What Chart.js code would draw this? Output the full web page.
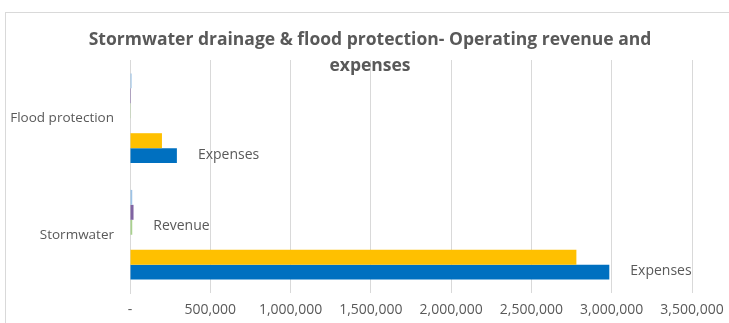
<!DOCTYPE html>
<html>
<head>
<meta charset="utf-8">
<script src="https://cdn.jsdelivr.net/npm/chart.js@4"></script>
<style>
  html, body { margin: 0; padding: 0; background: #fff; }
  #wrap { position: relative; width: 729px; height: 323px; }
</style>
</head>
<body>
<div id="wrap"><canvas id="c"></canvas></div>
<script>
// Categories (top to bottom)
const categories = ['Flood protection', 'Stormwater'];

// Series, in the order they are stacked inside each category band
const seriesNames = ['Grants', 'Other revenue', 'Revenue', 'Internal', 'Budgeted expenses', 'Expenses'];
const grantsValues        = [10000, 14000];
const otherRevenueValues  = [6000, 22000];
const revenueValues       = [5000, 14000];
const internalValues      = [null, null];
const budgetExpenseValues = [199000, 2780000];
const expenseValues       = [292000, 2985000];

// Text written beside a bar (series name shown as its data label)
const barLabels = [
  [null, null],
  [null, null],
  [null, 'Revenue'],
  [null, null],
  [null, null],
  ['Expenses', 'Expenses']
];

// Axis ticks
const xTicks = [0, 500000, 1000000, 1500000, 2000000, 2500000, 3000000, 3500000];

const titleLines = ['Stormwater drainage & flood protection- Operating revenue and', 'expenses'];

const colors = ['#9DC3E6', '#8064A2', '#A9D18E', '#A5A5A5', '#FFC000', '#0070C0'];
const seriesValues = [grantsValues, otherRevenueValues, revenueValues, internalValues, budgetExpenseValues, expenseValues];

const textColor = '#595959';
const gridColor = '#D9D9D9';
const fontFamily = '"Open Sans", "Noto Sans", sans-serif';

const framePlugin = {
  id: 'frame',
  beforeDraw(chart) {
    const ctx = chart.ctx;
    ctx.save();
    ctx.fillStyle = '#fff';
    ctx.fillRect(0, 0, chart.width, chart.height);
    ctx.strokeStyle = gridColor;
    ctx.lineWidth = 1;
    ctx.strokeRect(5.5, 12.5, 800, 400);
    ctx.restore();
  }
};

const titlePlugin = {
  id: 'chartTitle',
  afterDraw(chart) {
    const ctx = chart.ctx;
    ctx.save();
    ctx.font = 'bold 17.5px ' + fontFamily;
    ctx.fillStyle = textColor;
    ctx.textAlign = 'center';
    ctx.textBaseline = 'middle';
    ctx.fillText(titleLines[0], 370, 40);
    ctx.fillText(titleLines[1], 370, 66);
    ctx.restore();
  }
};

const barLabelPlugin = {
  id: 'barLabels',
  afterDatasetsDraw(chart) {
    const ctx = chart.ctx;
    ctx.save();
    ctx.font = '14px ' + fontFamily;
    ctx.fillStyle = textColor;
    ctx.textAlign = 'left';
    ctx.textBaseline = 'middle';
    barLabels.forEach((row, di) => {
      const meta = chart.getDatasetMeta(di);
      row.forEach((txt, i) => {
        if (!txt) return;
        const el = meta.data[i];
        ctx.fillText(txt, el.x + 21, el.y - 1);
      });
    });
    ctx.restore();
  }
};

new Chart(document.getElementById('c'), {
  type: 'bar',
  data: {
    labels: categories,
    datasets: seriesValues.map((vals, i) => ({
      label: seriesNames[i],
      data: vals,
      backgroundColor: colors[i],
      borderWidth: 0,
      categoryPercentage: 0.77,
      barPercentage: 1.0
    }))
  },
  options: {
    indexAxis: 'y',
    responsive: true,
    maintainAspectRatio: false,
    animation: false,
    layout: { padding: { top: 60, right: 37, bottom: 0, left: 0 } },
    plugins: {
      legend: { display: false },
      title: { display: false },
      tooltip: { enabled: false }
    },
    scales: {
      x: {
        min: 0,
        max: 3500000,
        afterBuildTicks(scale) { scale.ticks = xTicks.map(v => ({ value: v })); },
        afterFit(scale) {
          scale.height = 30;
          scale.paddingRight = 0;
          scale.paddingLeft = 0;
        },
        grid: { color: gridColor, drawTicks: false },
        border: { display: false },
        ticks: {
          color: textColor,
          padding: 9,
          maxRotation: 0,
          font: { family: fontFamily, size: 14 },
          callback: v => v === 0 ? '-' : v.toLocaleString('en-US')
        }
      },
      y: {
        afterFit(scale) { scale.width = 130; },
        grid: { display: false, drawTicks: false },
        border: { display: true, color: gridColor },
        ticks: {
          color: textColor,
          padding: 16,
          font: { family: fontFamily, size: 13.5 }
        }
      }
    }
  },
  plugins: [framePlugin, barLabelPlugin, titlePlugin]
});
</script>
</body>
</html>
